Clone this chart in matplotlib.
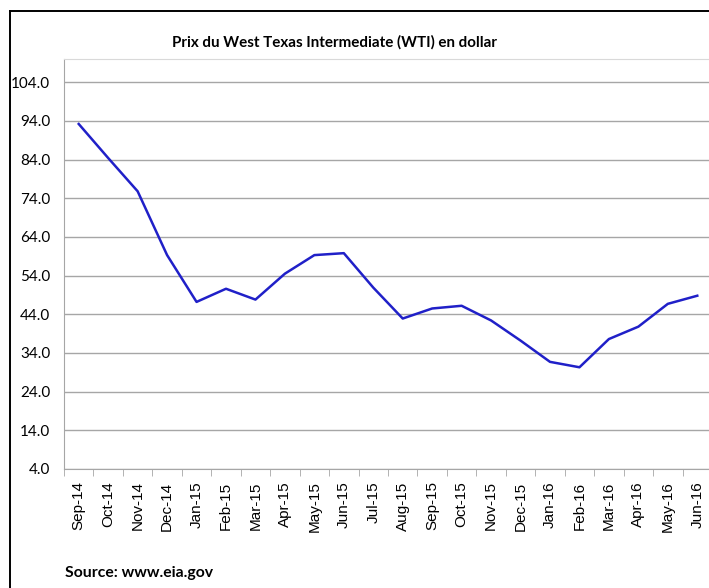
import matplotlib.pyplot as plt
from matplotlib.lines import Line2D

# Prix mensuel moyen du WTI (source: eia.gov)
months = ["Sep-14", "Oct-14", "Nov-14", "Dec-14", "Jan-15", "Feb-15", "Mar-15",
          "Apr-15", "May-15", "Jun-15", "Jul-15", "Aug-15", "Sep-15", "Oct-15",
          "Nov-15", "Dec-15", "Jan-16", "Feb-16", "Mar-16", "Apr-16", "May-16",
          "Jun-16"]
wti_price = [93.2, 84.4, 75.8, 59.3, 47.2, 50.6, 47.8, 54.5, 59.3, 59.8, 50.9,
             42.9, 45.5, 46.2, 42.4, 37.2, 31.7, 30.3, 37.6, 40.8, 46.7, 48.8]
y_ticks = [4.0, 14.0, 24.0, 34.0, 44.0, 54.0, 64.0, 74.0, 84.0, 94.0, 104.0]

W, H = 709, 588
fig = plt.figure(figsize=(W / 100, H / 100), dpi=100)

# cadre noir du graphique (coupe a droite et en bas)
fig.add_artist(Line2D([10 / W, 1.01], [1 - 11 / H, 1 - 11 / H], color="black", lw=1.4))
fig.add_artist(Line2D([10 / W, 10 / W], [1 - 11 / H, -0.01], color="black", lw=1.4))

ax = fig.add_axes([64 / W, 1 - 469 / H, (712 - 64) / W, (469 - 59) / H])
x = list(range(len(months)))
ax.plot(x, wti_price, color="#2020c8", lw=1.8)

ax.set_xlim(-0.5, len(months) - 0.5)
ax.set_ylim(4, 110)
ax.set_yticks(y_ticks)
ax.set_yticklabels([f"{v:.1f}" for v in y_ticks], family="Lato", fontsize=11)
ax.yaxis.grid(True, color="#a6a6a6", lw=1)
ax.set_axisbelow(True)
ax.tick_params(axis="y", length=0, pad=10)

ax.set_xticks(x)
ax.set_xticklabels(months, rotation=90, family="Liberation Sans", fontsize=11)
ax.set_xticks([i - 0.5 for i in range(len(months) + 1)], minor=True)
ax.tick_params(axis="x", which="major", length=0, pad=9)
ax.tick_params(axis="x", which="minor", length=5, color="#a6a6a6")

for side in ["top", "right"]:
    ax.spines[side].set_color("#d9d9d9")
for side in ["left", "bottom"]:
    ax.spines[side].set_color("#a6a6a6")

fig.text(334 / W, 1 - 42 / H, "Prix du West Texas Intermediate (WTI) en dollar",
         ha="center", va="center", family="Lato", fontweight="bold", fontsize=10.9)
fig.text(65 / W, 1 - 573 / H, "Source: www.eia.gov", ha="left", va="center",
         family="Lato", fontweight="bold", fontsize=11.3)

fig.savefig("out.png", dpi=100)
